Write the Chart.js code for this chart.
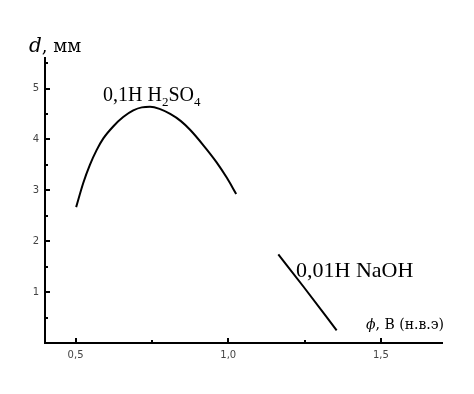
<!DOCTYPE html>
<html><head><meta charset="utf-8">
<script src="https://cdn.jsdelivr.net/npm/chart.js@4"></script>
<style>html,body{margin:0;padding:0;background:#fff}#w{width:474px;height:394px}</style>
</head><body><div id="w"><canvas id="c" width="474" height="394"></canvas></div>
<script>
const h2so4X = [0.502, 0.525, 0.547, 0.569, 0.591, 0.624, 0.656, 0.689, 0.717, 0.744, 0.775, 0.81, 0.845, 0.875, 0.918, 0.962, 0.995, 1.026];
const h2so4Y = [2.67, 3.14, 3.50, 3.79, 4.02, 4.26, 4.44, 4.57, 4.63, 4.64, 4.60, 4.50, 4.36, 4.19, 3.89, 3.55, 3.25, 2.93];
const naohX = [1.164, 1.246, 1.355];
const naohY = [1.74, 1.11, 0.25];
const xTicks = [0.5, 0.75, 1.0, 1.25, 1.5];
const xMajor = [0.5, 1.0, 1.5];
const yTicks = [0.5, 1, 1.5, 2, 2.5, 3, 3.5, 4, 4.5, 5, 5.5];
const yMajor = [1, 2, 3, 4, 5];

const pts = (xs, ys) => xs.map((x, i) => ({x, y: ys[i]}));
const isMajor = (arr, v) => arr.some(a => Math.abs(a - v) < 1e-6);

const tickPlugin = {
  id: 'inTicks',
  afterDraw(chart) {
    const ctx = chart.ctx, xs = chart.scales.x, ys = chart.scales.y;
    const a = chart.chartArea;
    ctx.save();
    ctx.strokeStyle = '#000';
    ctx.lineWidth = 2;
    xs.ticks.forEach(t => {
      const px = Math.round(xs.getPixelForValue(t.value));
      const len = isMajor(xMajor, t.value) ? 5 : 3;
      ctx.beginPath(); ctx.moveTo(px, a.bottom); ctx.lineTo(px, a.bottom - len); ctx.stroke();
    });
    ys.ticks.forEach(t => {
      const py = Math.round(ys.getPixelForValue(t.value));
      const len = isMajor(yMajor, t.value) ? 5 : 3;
      ctx.beginPath(); ctx.moveTo(a.left, py); ctx.lineTo(a.left + len, py); ctx.stroke();
    });
    ctx.fillStyle = '#000';
    ctx.textBaseline = 'alphabetic';
    ctx.textAlign = 'left';
    let x0 = 29, y0 = 52;
    ctx.font = 'italic 20px "DejaVu Serif"';
    ctx.fillText('d', x0, y0);
    let w = ctx.measureText('d').width;
    ctx.font = '18px "DejaVu Serif"';
    ctx.fillText(', мм', x0 + w, y0);
    x0 = 366; y0 = 329;
    ctx.font = 'italic 14px "DejaVu Serif"';
    ctx.fillText('ϕ', x0, y0);
    w = ctx.measureText('ϕ').width;
    ctx.font = '14px "DejaVu Serif"';
    ctx.fillText(', В (н.в.э)', x0 + w, y0);
    x0 = 103; y0 = 101;
    const big = '20px "Liberation Serif"', small = '13px "Liberation Serif"';
    const parts = [['0,1Н H', big, 0], ['2', small, 5], ['SO', big, 0], ['4', small, 5]];
    let cx = x0;
    parts.forEach(([s, f, dy]) => { ctx.font = f; ctx.fillText(s, cx, y0 + dy); cx += ctx.measureText(s).width; });
    ctx.font = '22px "Liberation Serif"';
    ctx.fillText('0,01Н NaOH', 296, 277);
    ctx.restore();
  }
};

new Chart(document.getElementById('c'), {
  type: 'scatter',
  data: {
    datasets: [
      { label: '0,1Н H2SO4', data: pts(h2so4X, h2so4Y), showLine: true, borderColor: '#000', borderWidth: 2, pointRadius: 0, cubicInterpolationMode: 'monotone', fill: false },
      { label: '0,01Н NaOH', data: pts(naohX, naohY), showLine: true, borderColor: '#000', borderWidth: 2, pointRadius: 0, cubicInterpolationMode: 'monotone', fill: false }
    ]
  },
  options: {
    responsive: false,
    animation: false,
    layout: { padding: { top: 58, right: 32, left: 0, bottom: 0 } },
    plugins: { legend: { display: false }, tooltip: { enabled: false } },
    scales: {
      x: {
        type: 'linear', min: 0.4, max: 1.7,
        afterBuildTicks: s => { s.ticks = xTicks.map(v => ({value: v})); },
        afterFit: s => { s.height = 51; },
        grid: { display: true, drawOnChartArea: false, drawTicks: false },
        border: { display: true, color: '#000', width: 2 },
        ticks: { padding: 6, color: '#444', font: { family: 'DejaVu Sans', size: 10 },
          callback: v => isMajor(xMajor, v) ? v.toFixed(1).replace('.', ',') : '' , maxRotation: 0, autoSkip: false }
      },
      y: {
        type: 'linear', min: 0, max: 5.6,
        afterBuildTicks: s => { s.ticks = yTicks.map(v => ({value: v})); },
        afterFit: s => { s.width = 45; },
        grid: { display: true, drawOnChartArea: false, drawTicks: false },
        border: { display: true, color: '#000', width: 2 },
        ticks: { padding: 6, color: '#444', font: { family: 'DejaVu Sans', size: 10 },
          callback: v => isMajor(yMajor, v) ? String(v) : '', autoSkip: false }
      }
    }
  },
  plugins: [tickPlugin]
});
</script>
</body></html>
